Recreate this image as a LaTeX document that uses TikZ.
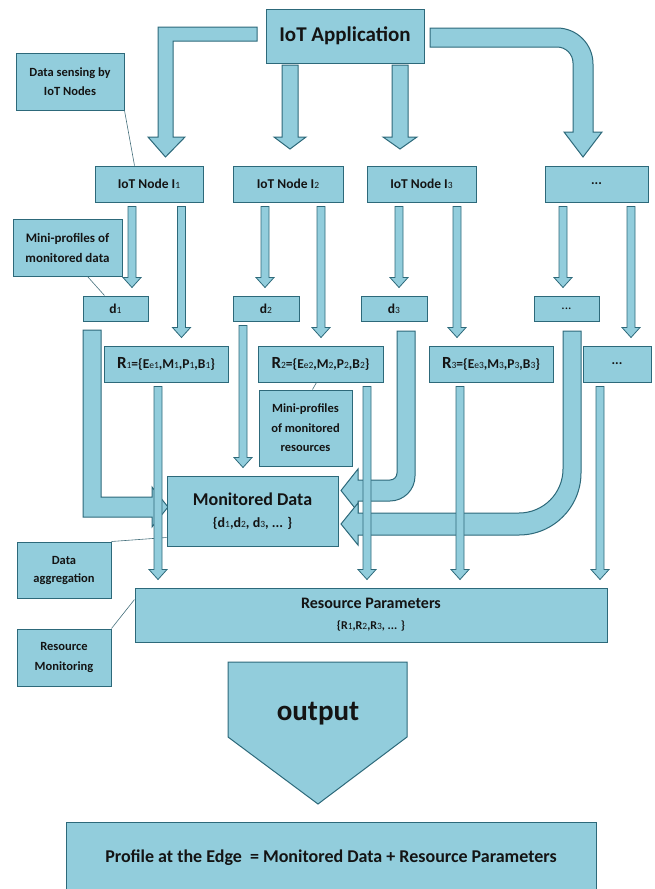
\documentclass[tikz,border=0pt]{standalone}
\usepackage{fontspec}
\setmainfont{Carlito}
\usetikzlibrary{calc}
\definecolor{fillc}{RGB}{146,205,220}
\definecolor{bord}{RGB}{45,105,122}
\definecolor{txt}{RGB}{20,20,20}
\newcommand{\subd}[1]{{\fontsize{9.5}{10}\selectfont\mdseries #1}}
\newcommand{\bx}[7][]{\node[box,#1,minimum width={#5-#3},minimum height={#6-#4}] (#2) at ({(#3+#5)/2},{(#4+#6)/2}) {#7};}
\newcommand{\tarrow}[3]{\path[tarr] let \p1=(#2.south), \p2=(#3.north) in
 ({#1pt-4pt},{\y1-4pt}) -- ({#1pt+4pt},{\y1-4pt}) -- ({#1pt+4pt},{\y2+18pt}) -- ({#1pt+9pt},{\y2+18pt}) -- ({#1pt},{\y2+8pt}) -- ({#1pt-9pt},{\y2+18pt}) -- ({#1pt-4pt},{\y2+18pt}) -- cycle;}
\tikzset{
 box/.style={draw=bord, fill=fillc, line width=1pt, inner sep=0pt, align=center, text=txt},
 blk/.style={draw=bord, fill=fillc, line width=1pt, line join=miter},
 tarr/.style={draw=bord, fill=fillc, line width=0.8pt, line join=miter},
 callline/.style={draw=bord!70!gray, line width=0.6pt},
 fcall/.style={font=\fontsize{12.5}{19.5}\selectfont\bfseries},
 fnode/.style={font=\fontsize{13.5}{16}\selectfont\bfseries},
 fbig/.style={font=\fontsize{21}{24}\selectfont\bfseries},
}
\begin{document}
\begin{tikzpicture}[x=1pt,y=-1pt]
\useasboundingbox (0,0) rectangle (655,889);
% big block arrows
\path[blk] (257,27) -- (158,27) -- (158,137) -- (148,137) -- (165.5,157) -- (185,137) -- (173,137) -- (173,41) -- (257,41) -- cycle;
\path[blk] (282,65) -- (298,65) -- (298,137) -- (306,137) -- (290,149) -- (274,137) -- (282,137) -- cycle;
\path[blk] (392,65) -- (408,65) -- (408,137) -- (417,137) -- (400,149) -- (383,137) -- (392,137) -- cycle;
\path[blk] (430,28) -- (557,28) .. controls (576.9,28) and (593,44.1) .. (593,64) -- (593,132) -- (602,132) -- (583,157) -- (564,132) -- (573,132) -- (573,63) .. controls (573,54.2) and (565.8,47) .. (557,47) -- (430,47) -- cycle;
\path[blk] (83,330) -- (101,330) -- (101,497) -- (152,497) -- (152,487) -- (168,507) -- (152,527) -- (152,517) -- (83,517) -- cycle;
\path[blk] (397,331) -- (415,331) -- (415,476) .. controls (415,489.8) and (403.8,501) .. (390,501) -- (358,501) -- (358,512) -- (341,490.5) -- (358,469) -- (358,480) -- (390,480) .. controls (393.9,480) and (397,476.9) .. (397,473) -- cycle;
\path[blk] (563,331) -- (581,331) -- (581,473) .. controls (581,507.2) and (553.2,535) .. (519,535) -- (358,535) -- (358,545) -- (341,524) -- (358,503) -- (358,513) -- (519,513) .. controls (543.3,513) and (563,493.3) .. (563,469) -- cycle;
% boxes
\bx[fbig]{app}{266}{9}{424}{63}{IoT Application}
\bx[fcall]{ds}{16}{53}{124}{110}{Data sensing by\\IoT Nodes}
\bx[fnode]{n1}{95}{166}{203}{202}{IoT Node I\subd{1}}
\bx[fnode]{n2}{233}{166}{343}{202}{IoT Node I\subd{2}}
\bx[fnode]{n3}{367}{166}{476}{202}{IoT Node I\subd{3}}
\bx[fnode]{n4}{545}{166}{648}{202}{...}
\bx[fcall,font=\fontsize{13}{20}\selectfont\bfseries]{mpd}{13}{219}{122}{276}{Mini-profiles of\\monitored data}
\bx[fnode]{d1}{83}{296}{148}{321}{d\subd{1}}
\bx[fnode]{d2}{233}{296}{299}{321}{d\subd{2}}
\bx[fnode]{d3}{361}{296}{427}{321}{d\subd{3}}
\bx[fnode]{d4}{534}{296}{599}{321}{\mdseries ...}
\bx[fnode]{r1}{104}{346}{228}{382}{{\fontsize{17}{17}\selectfont R}\subd{1}=\{E\subd{e1},M\subd{1},P\subd{1},B\subd{1}\}}
\bx[fnode]{r2}{258}{346}{383}{382}{{\fontsize{17}{17}\selectfont R}\subd{2}=\{E\subd{e2},M\subd{2},P\subd{2},B\subd{2}\}}
\bx[fnode]{r3}{429}{346}{553}{382}{{\fontsize{17}{17}\selectfont R}\subd{3}=\{E\subd{e3},M\subd{3},P\subd{3},B\subd{3}\}}
\bx[fnode]{r4}{583}{346}{651}{382}{...}
\bx[fcall]{mpr}{259}{390}{352}{466}{Mini-profiles\\of monitored\\resources}
\bx[font=\fontsize{18}{22}\selectfont\bfseries]{md}{167}{476}{338}{546}{Monitored Data\\{\fontsize{14}{16}\selectfont \{d\subd{1},d\subd{2}, d\subd{3}, ... \}}}
\bx[fcall,font=\fontsize{12.5}{18}\selectfont\bfseries]{da}{17}{542}{111}{598}{Data\\aggregation}
\bx[font=\fontsize{16}{21}\selectfont\bfseries]{rp}{135}{588}{607}{642}{Resource Parameters\\{\fontsize{12}{14}\selectfont \{R\subd{1},R\subd{2},R\subd{3}, ... \}}}
\bx[fcall,font=\fontsize{12.5}{20}\selectfont\bfseries]{rm}{17}{629}{111}{686}{Resource\\Monitoring}
\bx[font=\fontsize{18}{22}\selectfont\bfseries]{fin}{66}{822}{596}{893}{Profile at the Edge\ \ = Monitored Data + Resource Parameters}
% output arrow
\path[blk] (228,662) -- (407,662) -- (407,737) -- (318,804) -- (228,737) -- cycle;
\node[text=txt, font=\fontsize{29}{32}\selectfont\bfseries] (out) at (318,714) {output};
% callout lines
\draw[callline] (ds.south east) -- ($(n1.north west)+(40,0)$);
\draw[callline] ($(mpd.south west)+(75,0)$) -- ($(d1.north west)+(22,0)$);
\draw[callline] ($(mpr.north west)+(54,0)$) -- ($(r2.south west)+(59,0)$);
\draw[callline] (da.north east) -- ($(md.south west)+(0,-9)$);
\draw[callline] (rm.north east) -- ($(rp.north west)+(0,12)$);
% thin arrows
\tarrow{132}{n1}{d1}
\tarrow{181.5}{n1}{r1}
\tarrow{265}{n2}{d2}
\tarrow{321}{n2}{r2}
\tarrow{399}{n3}{d3}
\tarrow{457}{n3}{r3}
\tarrow{563}{n4}{d4}
\tarrow{631}{n4}{r4}
\tarrow{243}{d2}{md}
\tarrow{158}{r1}{rp}
\tarrow{367}{r2}{rp}
\tarrow{460}{r3}{rp}
\tarrow{600}{r4}{rp}
\end{tikzpicture}
\end{document}
